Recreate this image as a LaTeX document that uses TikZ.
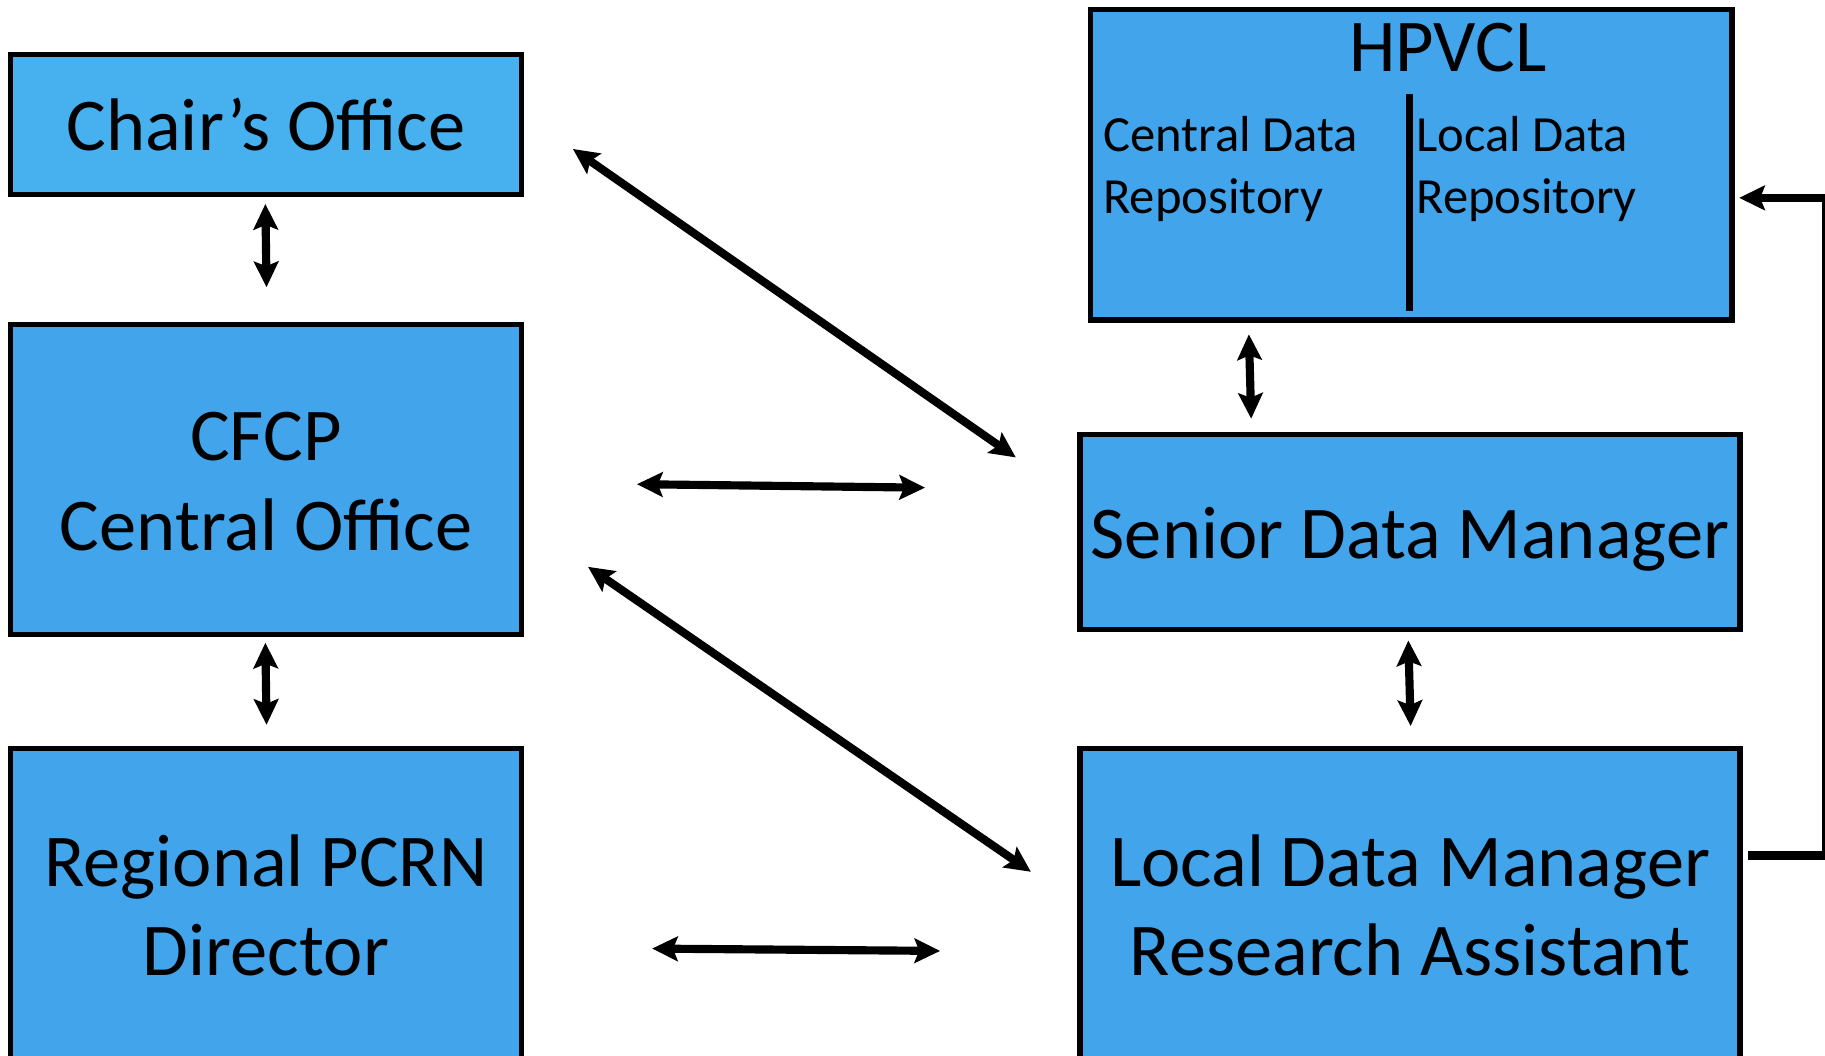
\documentclass[tikz,border=0pt]{standalone}
\usepackage{fontspec}
\setmainfont{Carlito}
\usetikzlibrary{arrows.meta,calc}

\definecolor{chairblue}{RGB}{71,176,239}
\definecolor{boxblue}{RGB}{66,164,235}

\tikzset{
  unitbox/.style={draw=black, line width=4.5pt, fill=boxblue, inner sep=0pt,
    align=center, font=\fontsize{64}{77}\selectfont},
  smalltext/.style={inner sep=0pt, align=left, font=\fontsize{43.5}{53}\selectfont},
  biarrow/.style={line width=7pt, {Stealth[length=22pt,width=21pt,inset=4pt]}-{Stealth[length=22pt,width=21pt,inset=4pt]}},
  onearrow/.style={line width=7pt, -{Stealth[length=22pt,width=21pt,inset=4pt]}}
}
% lower a line of text without changing its box
\newcommand{\droptext}[2]{\raisebox{-#1}[\height][\depth]{#2}}

\begin{document}
\begin{tikzpicture}[x=1pt,y=-1pt]
\useasboundingbox (0,0) rectangle (1568,907);

% left column
\node[unitbox, fill=chairblue, minimum width=439pt, minimum height=120pt] (chair) at (228.5,107) {Chair’s Office};
\node[unitbox, minimum width=439pt, minimum height=266pt] (cfcp) at (228.5,412) {\droptext{2pt}{CFCP}\\\droptext{2pt}{Central Office}};
\node[unitbox, minimum width=439pt, minimum height=270pt] (regional) at (228.5,778) {Regional PCRN\\Director};

% right column
\node[unitbox, minimum width=551pt, minimum height=267pt] (hpvcl) at (1212.5,141.5) {};
\node[unitbox, minimum width=567pt, minimum height=168pt] (senior) at (1211.5,457) {\droptext{6pt}{Senior Data Manager}};
\node[unitbox, minimum width=567pt, minimum height=270pt] (local) at (1211.5,778) {Local Data Manager\\Research Assistant};

% contents of the HPVCL box
\node[inner sep=0pt, font=\fontsize{64}{77}\selectfont] (hpvcltitle) at ($(hpvcl.north)+(31.5,35)$) {HPVCL};
\node[smalltext, anchor=north west] (central) at ($(hpvcl.north west)+(13,94)$) {Central Data\\Repository};
\node[smalltext, anchor=north west] (localrepo) at ($(hpvcl.north west)+(282,94)$) {Local Data\\Repository};
\draw[line width=6pt] ($(hpvcl.north)+(-1.5,75)$) -- ($(hpvcl.south)+(-1.5,-10)$);

% connectors
\draw[biarrow] ($(chair.south)+(-0.5,6)$) -- ($(cfcp.north)+(0.5,-30)$);
\draw[biarrow] ($(cfcp.south)+(-0.5,5)$) -- ($(regional.north)+(0.5,-18)$);
\draw[biarrow] ($(chair.east)+(42,21)$) -- ($(senior.west)+(-53,-64)$);
\draw[biarrow] ($(cfcp.east)+(97,4)$) -- ($(senior.west)+(-131,-38)$);
\draw[biarrow] ($(cfcp.east)+(55,75)$) -- ($(local.west)+(-40,-29)$);
\draw[biarrow] ($(regional.east)+(110,37)$) -- ($(local.west)+(-118,39)$);
\draw[biarrow] ($(hpvcl.south)+(-139.5,10)$) -- ($(senior.north)+(-136.5,-11)$);
\draw[biarrow] ($(senior.south)+(-1.5,7)$) -- ($(local.north)+(0.5,-17)$);
\draw[onearrow] ($(local.east)+(5,-43)$) -- ++(67,0) |- ($(hpvcl.east)+(4,28.5)$);
\end{tikzpicture}
\end{document}
